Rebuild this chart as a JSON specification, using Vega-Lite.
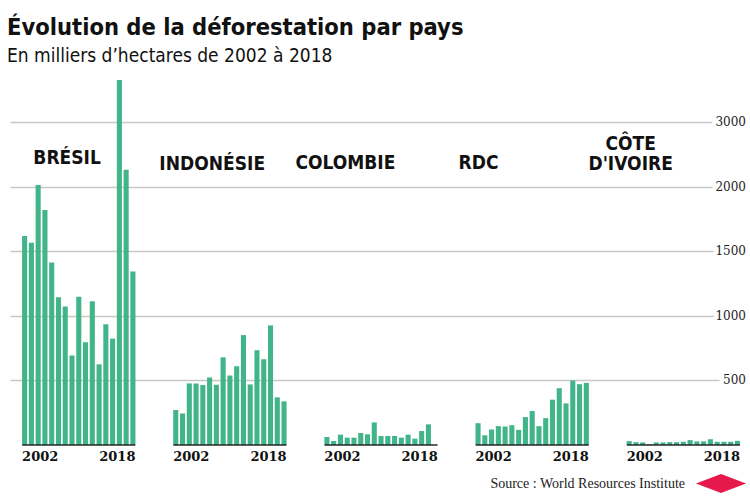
{
  "$schema": "https://vega.github.io/schema/vega-lite/v6.json",
  "width": 730,
  "height": 368,
  "padding": {"left": 7, "top": 15, "right": 0, "bottom": 0},
  "background": "white",
  "title": {
    "text": "Évolution de la déforestation par pays",
    "subtitle": "En milliers d’hectares de 2002 à 2018",
    "anchor": "start",
    "font": "Liberation Sans Narrow, DejaVu Sans Condensed, sans-serif",
    "fontSize": 23.5,
    "fontWeight": "bold",
    "color": "#111111",
    "subtitleFont": "Liberation Sans Narrow, DejaVu Sans Condensed, sans-serif",
    "subtitleFontSize": 19,
    "subtitleColor": "#111111",
    "subtitlePadding": 8,
    "offset": 11,
    "dx": -3
  },
  "config": {"view": {"stroke": null}},
  "datasets": {
    "bars": [
      {"country": "BRÉSIL", "year": 2002, "value": 1619},
      {"country": "BRÉSIL", "year": 2003, "value": 1567},
      {"country": "BRÉSIL", "year": 2004, "value": 2014},
      {"country": "BRÉSIL", "year": 2005, "value": 1820},
      {"country": "BRÉSIL", "year": 2006, "value": 1413},
      {"country": "BRÉSIL", "year": 2007, "value": 1144},
      {"country": "BRÉSIL", "year": 2008, "value": 1072},
      {"country": "BRÉSIL", "year": 2009, "value": 693},
      {"country": "BRÉSIL", "year": 2010, "value": 1149},
      {"country": "BRÉSIL", "year": 2011, "value": 796},
      {"country": "BRÉSIL", "year": 2012, "value": 1113},
      {"country": "BRÉSIL", "year": 2013, "value": 625},
      {"country": "BRÉSIL", "year": 2014, "value": 935},
      {"country": "BRÉSIL", "year": 2015, "value": 824},
      {"country": "BRÉSIL", "year": 2016, "value": 2827},
      {"country": "BRÉSIL", "year": 2017, "value": 2132},
      {"country": "BRÉSIL", "year": 2018, "value": 1343},
      {"country": "INDONÉSIE", "year": 2002, "value": 272},
      {"country": "INDONÉSIE", "year": 2003, "value": 244},
      {"country": "INDONÉSIE", "year": 2004, "value": 477},
      {"country": "INDONÉSIE", "year": 2005, "value": 477},
      {"country": "INDONÉSIE", "year": 2006, "value": 464},
      {"country": "INDONÉSIE", "year": 2007, "value": 523},
      {"country": "INDONÉSIE", "year": 2008, "value": 467},
      {"country": "INDONÉSIE", "year": 2009, "value": 679},
      {"country": "INDONÉSIE", "year": 2010, "value": 538},
      {"country": "INDONÉSIE", "year": 2011, "value": 610},
      {"country": "INDONÉSIE", "year": 2012, "value": 851},
      {"country": "INDONÉSIE", "year": 2013, "value": 469},
      {"country": "INDONÉSIE", "year": 2014, "value": 733},
      {"country": "INDONÉSIE", "year": 2015, "value": 664},
      {"country": "INDONÉSIE", "year": 2016, "value": 926},
      {"country": "INDONÉSIE", "year": 2017, "value": 369},
      {"country": "INDONÉSIE", "year": 2018, "value": 338},
      {"country": "COLOMBIE", "year": 2002, "value": 62},
      {"country": "COLOMBIE", "year": 2003, "value": 31},
      {"country": "COLOMBIE", "year": 2004, "value": 80},
      {"country": "COLOMBIE", "year": 2005, "value": 57},
      {"country": "COLOMBIE", "year": 2006, "value": 57},
      {"country": "COLOMBIE", "year": 2007, "value": 93},
      {"country": "COLOMBIE", "year": 2008, "value": 83},
      {"country": "COLOMBIE", "year": 2009, "value": 175},
      {"country": "COLOMBIE", "year": 2010, "value": 70},
      {"country": "COLOMBIE", "year": 2011, "value": 70},
      {"country": "COLOMBIE", "year": 2012, "value": 70},
      {"country": "COLOMBIE", "year": 2013, "value": 57},
      {"country": "COLOMBIE", "year": 2014, "value": 80},
      {"country": "COLOMBIE", "year": 2015, "value": 49},
      {"country": "COLOMBIE", "year": 2016, "value": 108},
      {"country": "COLOMBIE", "year": 2017, "value": 160},
      {"country": "COLOMBIE", "year": 2018, "value": 0},
      {"country": "RDC", "year": 2002, "value": 169},
      {"country": "RDC", "year": 2003, "value": 75},
      {"country": "RDC", "year": 2004, "value": 120},
      {"country": "RDC", "year": 2005, "value": 146},
      {"country": "RDC", "year": 2006, "value": 143},
      {"country": "RDC", "year": 2007, "value": 153},
      {"country": "RDC", "year": 2008, "value": 117},
      {"country": "RDC", "year": 2009, "value": 216},
      {"country": "RDC", "year": 2010, "value": 263},
      {"country": "RDC", "year": 2011, "value": 146},
      {"country": "RDC", "year": 2012, "value": 208},
      {"country": "RDC", "year": 2013, "value": 351},
      {"country": "RDC", "year": 2014, "value": 440},
      {"country": "RDC", "year": 2015, "value": 322},
      {"country": "RDC", "year": 2016, "value": 500},
      {"country": "RDC", "year": 2017, "value": 471},
      {"country": "RDC", "year": 2018, "value": 481},
      {"country": "CÔTE D'IVOIRE", "year": 2002, "value": 30},
      {"country": "CÔTE D'IVOIRE", "year": 2003, "value": 22},
      {"country": "CÔTE D'IVOIRE", "year": 2004, "value": 20},
      {"country": "CÔTE D'IVOIRE", "year": 2005, "value": 5},
      {"country": "CÔTE D'IVOIRE", "year": 2006, "value": 20},
      {"country": "CÔTE D'IVOIRE", "year": 2007, "value": 20},
      {"country": "CÔTE D'IVOIRE", "year": 2008, "value": 22},
      {"country": "CÔTE D'IVOIRE", "year": 2009, "value": 22},
      {"country": "CÔTE D'IVOIRE", "year": 2010, "value": 25},
      {"country": "CÔTE D'IVOIRE", "year": 2011, "value": 38},
      {"country": "CÔTE D'IVOIRE", "year": 2012, "value": 28},
      {"country": "CÔTE D'IVOIRE", "year": 2013, "value": 28},
      {"country": "CÔTE D'IVOIRE", "year": 2014, "value": 45},
      {"country": "CÔTE D'IVOIRE", "year": 2015, "value": 25},
      {"country": "CÔTE D'IVOIRE", "year": 2016, "value": 25},
      {"country": "CÔTE D'IVOIRE", "year": 2017, "value": 25},
      {"country": "CÔTE D'IVOIRE", "year": 2018, "value": 32}
    ],
    "countries": [
      {"country": "BRÉSIL"},
      {"country": "INDONÉSIE"},
      {"country": "COLOMBIE"},
      {"country": "RDC"},
      {"country": "CÔTE D'IVOIRE"}
    ],
    "yticks": [
      {"v": 500, "t": "500"},
      {"v": 1000, "t": "1000"},
      {"v": 1500, "t": "1500"},
      {"v": 2000, "t": "2000"},
      {"v": 2500, "t": "3000"}
    ]
  },
  "layer": [
    {
      "data": {"name": "bars"},
      "mark": {"type": "bar", "color": "#41b48a"},
      "encoding": {
        "x": {
          "field": "country",
          "type": "nominal",
          "scale": {
            "domain": ["BRÉSIL", "INDONÉSIE", "COLOMBIE", "RDC", "CÔTE D'IVOIRE"],
            "paddingInner": 0.25,
            "paddingOuter": 0.04,
            "align": 1
          },
          "axis": null
        },
        "xOffset": {"field": "year", "type": "ordinal", "scale": {"paddingInner": 0.25, "paddingOuter": 0}},
        "y": {
          "field": "value",
          "type": "quantitative",
          "scale": {"domain": [0, 2850], "nice": false},
          "axis": {
            "orient": "right",
            "values": [500, 1000, 1500, 2000, 2500],
            "grid": true,
            "gridColor": "#c8c8c8",
            "gridWidth": 1.5,
            "labels": false,
            "ticks": false,
            "domain": false,
            "title": null
          }
        }
      }
    },
    {
      "data": {"name": "countries"},
      "mark": {"type": "tick", "orient": "horizontal", "size": 113, "thickness": 2, "color": "#1a1a1a"},
      "encoding": {
        "x": {"field": "country", "type": "nominal"},
        "y": {"datum": 0}
      }
    },
    {
      "data": {"name": "countries"},
      "mark": {"type": "text", "text": "2002", "align": "left", "baseline": "middle", "dy": 12, "font": "DejaVu Serif", "fontWeight": "bold", "fontSize": 13, "color": "#111111"},
      "encoding": {
        "x": {"field": "country", "type": "nominal", "bandPosition": 0},
        "y": {"datum": 0}
      }
    },
    {
      "data": {"name": "countries"},
      "mark": {"type": "text", "text": "2018", "align": "right", "baseline": "middle", "dy": 12, "font": "DejaVu Serif", "fontWeight": "bold", "fontSize": 13, "color": "#111111"},
      "encoding": {
        "x": {"field": "country", "type": "nominal", "bandPosition": 1},
        "y": {"datum": 0}
      }
    },
    {
      "data": {"values": [{"country": "BRÉSIL"}]},
      "mark": {"type": "text", "text": "BRÉSIL", "align": "center", "baseline": "alphabetic", "dx": 45, "font": "Liberation Sans Narrow, DejaVu Sans Condensed, sans-serif", "fontWeight": "bold", "fontSize": 19, "color": "#111111"},
      "encoding": {"x": {"field": "country", "type": "nominal", "bandPosition": 0}, "y": {"datum": 2175}}
    },
    {
      "data": {"values": [{"country": "INDONÉSIE"}]},
      "mark": {"type": "text", "text": "INDONÉSIE", "align": "center", "baseline": "alphabetic", "dx": 39, "font": "Liberation Sans Narrow, DejaVu Sans Condensed, sans-serif", "fontWeight": "bold", "fontSize": 19, "color": "#111111"},
      "encoding": {"x": {"field": "country", "type": "nominal", "bandPosition": 0}, "y": {"datum": 2130}}
    },
    {
      "data": {"values": [{"country": "COLOMBIE"}]},
      "mark": {"type": "text", "text": "COLOMBIE", "align": "center", "baseline": "alphabetic", "dx": 21, "font": "Liberation Sans Narrow, DejaVu Sans Condensed, sans-serif", "fontWeight": "bold", "fontSize": 19, "color": "#111111"},
      "encoding": {"x": {"field": "country", "type": "nominal", "bandPosition": 0}, "y": {"datum": 2136}}
    },
    {
      "data": {"values": [{"country": "RDC"}]},
      "mark": {"type": "text", "text": "RDC", "align": "center", "baseline": "alphabetic", "dx": 3, "font": "Liberation Sans Narrow, DejaVu Sans Condensed, sans-serif", "fontWeight": "bold", "fontSize": 19, "color": "#111111"},
      "encoding": {"x": {"field": "country", "type": "nominal", "bandPosition": 0}, "y": {"datum": 2136}}
    },
    {
      "data": {"values": [{"country": "CÔTE D'IVOIRE"}]},
      "mark": {"type": "text", "text": ["CÔTE", "D'IVOIRE"], "lineHeight": 20, "align": "center", "baseline": "alphabetic", "dx": 4, "font": "Liberation Sans Narrow, DejaVu Sans Condensed, sans-serif", "fontWeight": "bold", "fontSize": 19, "color": "#111111"},
      "encoding": {"x": {"field": "country", "type": "nominal", "bandPosition": 0}, "y": {"datum": 2283}}
    },
    {
      "data": {"name": "yticks"},
      "mark": {"type": "text", "align": "right", "baseline": "middle", "dx": 6, "font": "DejaVu Serif", "fontSize": 12, "fill": "white", "stroke": "white", "strokeWidth": 9, "strokeJoin": "round"},
      "encoding": {
        "x": {"value": "width"},
        "y": {"field": "v", "type": "quantitative"},
        "text": {"field": "t", "type": "nominal"}
      }
    },
    {
      "data": {"name": "yticks"},
      "mark": {"type": "text", "align": "right", "baseline": "middle", "dx": 6, "font": "DejaVu Serif", "fontSize": 12, "color": "#222222"},
      "encoding": {
        "x": {"value": "width"},
        "y": {"field": "v", "type": "quantitative"},
        "text": {"field": "t", "type": "nominal"}
      }
    },
    {
      "data": {"values": [{}]},
      "mark": {"type": "text", "text": "Source : World Resources Institute", "align": "right", "baseline": "middle", "dx": -55, "dy": 39, "font": "Liberation Serif", "fontSize": 14, "color": "#222222"},
      "encoding": {"x": {"value": "width"}, "y": {"datum": 0}}
    },
    {
      "data": {"values": [{}]},
      "mark": {"type": "point", "shape": "M-1,0L0,-0.38L1,0L0,0.38Z", "filled": true, "size": 2500, "color": "#e5194c", "opacity": 1, "xOffset": -19, "yOffset": 38.5},
      "encoding": {"x": {"value": "width"}, "y": {"datum": 0}}
    }
  ]
}
